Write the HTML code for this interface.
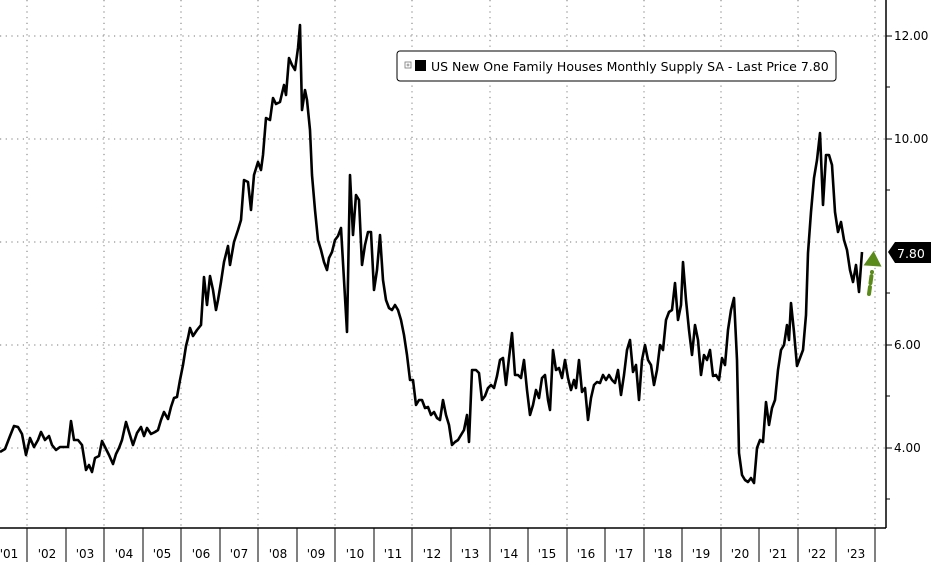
<!DOCTYPE html>
<html><head><style>
body{margin:0;background:#fff;}
svg{display:block;font-family:"DejaVu Sans","Liberation Sans",sans-serif;}
</style></head><body>
<svg width="931" height="562" viewBox="0 0 931 562">
<rect width="931" height="562" fill="#fff"/>
<g stroke="#777" stroke-width="1" stroke-dasharray="1.2,4.5">
<line x1="0" y1="36" x2="886" y2="36"/>
<line x1="0" y1="139" x2="886" y2="139"/>
<line x1="0" y1="242" x2="886" y2="242"/>
<line x1="0" y1="345" x2="886" y2="345"/>
<line x1="0" y1="448" x2="886" y2="448"/>
<line x1="27" y1="0" x2="27" y2="528"/>
<line x1="104" y1="0" x2="104" y2="528"/>
<line x1="181" y1="0" x2="181" y2="528"/>
<line x1="258" y1="0" x2="258" y2="528"/>
<line x1="335" y1="0" x2="335" y2="528"/>
<line x1="412" y1="0" x2="412" y2="528"/>
<line x1="490" y1="0" x2="490" y2="528"/>
<line x1="567" y1="0" x2="567" y2="528"/>
<line x1="644" y1="0" x2="644" y2="528"/>
<line x1="721" y1="0" x2="721" y2="528"/>
<line x1="798" y1="0" x2="798" y2="528"/>
<line x1="875" y1="0" x2="875" y2="528"/>
</g>
<line x1="0" y1="528" x2="886" y2="528" stroke="#000" stroke-width="1.5"/>
<line x1="886" y1="0" x2="886" y2="528" stroke="#000" stroke-width="1.5"/>
<g stroke="#000" stroke-width="1">
<line x1="27" y1="528" x2="27" y2="562"/><line x1="66" y1="528" x2="66" y2="562"/><line x1="104" y1="528" x2="104" y2="562"/><line x1="143" y1="528" x2="143" y2="562"/><line x1="181" y1="528" x2="181" y2="562"/><line x1="220" y1="528" x2="220" y2="562"/><line x1="258" y1="528" x2="258" y2="562"/><line x1="297" y1="528" x2="297" y2="562"/><line x1="335" y1="528" x2="335" y2="562"/><line x1="374" y1="528" x2="374" y2="562"/><line x1="412" y1="528" x2="412" y2="562"/><line x1="451" y1="528" x2="451" y2="562"/><line x1="490" y1="528" x2="490" y2="562"/><line x1="528" y1="528" x2="528" y2="562"/><line x1="567" y1="528" x2="567" y2="562"/><line x1="605" y1="528" x2="605" y2="562"/><line x1="644" y1="528" x2="644" y2="562"/><line x1="682" y1="528" x2="682" y2="562"/><line x1="721" y1="528" x2="721" y2="562"/><line x1="759" y1="528" x2="759" y2="562"/><line x1="798" y1="528" x2="798" y2="562"/><line x1="836" y1="528" x2="836" y2="562"/><line x1="875" y1="528" x2="875" y2="562"/>
<line x1="886" y1="36" x2="892" y2="36"/><line x1="886" y1="139" x2="892" y2="139"/><line x1="886" y1="345" x2="892" y2="345"/><line x1="886" y1="448" x2="892" y2="448"/>
<line x1="886" y1="87" x2="890" y2="87"/><line x1="886" y1="190" x2="890" y2="190"/><line x1="886" y1="293" x2="890" y2="293"/><line x1="886" y1="396" x2="890" y2="396"/><line x1="886" y1="499" x2="890" y2="499"/>
</g>
<g font-size="12" fill="#000" text-anchor="middle">
<text x="9" y="558">'01</text><text x="47" y="558">'02</text><text x="85" y="558">'03</text><text x="124" y="558">'04</text><text x="162" y="558">'05</text><text x="201" y="558">'06</text><text x="239" y="558">'07</text><text x="278" y="558">'08</text><text x="316" y="558">'09</text><text x="355" y="558">'10</text><text x="393" y="558">'11</text><text x="432" y="558">'12</text><text x="470" y="558">'13</text><text x="509" y="558">'14</text><text x="547" y="558">'15</text><text x="586" y="558">'16</text><text x="624" y="558">'17</text><text x="663" y="558">'18</text><text x="701" y="558">'19</text><text x="740" y="558">'20</text><text x="778" y="558">'21</text><text x="817" y="558">'22</text><text x="856" y="558">'23</text>
</g>
<g font-size="12" fill="#000">
<text x="894" y="40">12.00</text><text x="894" y="143">10.00</text><text x="894" y="349">6.00</text><text x="894" y="452">4.00</text>
</g>
<polyline fill="none" stroke="#000" stroke-width="2.6" stroke-linejoin="round" points="0,452 5,449 10,436 14,426 18,427 22,434 26,455 30,438 34,447 38,440 41,432 45,440 49,436 52,445 56,450 60,447 64,447 68,447 71,421 74,440 78,440 82,445 86,470 89,465 92,472 95,458 99,456 102,441 105,447 109,455 113,464 116,454 119,448 122,440 126,422 129,432 133,445 137,433 141,427 144,436 147,428 151,434 155,432 158,430 161,420 164,412 168,419 171,407 174,398 177,397 180,380 183,365 186,346 188,338 190,328 193,336 197,330 201,325 204,277 207,305 210,276 213,290 216,310 218,300 221,282 224,262 228,246 230,265 234,242 238,230 241,220 244,180 248,182 251,210 254,175 258,162 261,170 263,155 266,118 270,120 273,98 276,104 280,102 284,85 286,95 289,58 292,65 295,70 298,48 300,25 302,110 305,90 307,100 310,130 312,175 315,210 318,240 321,250 324,262 327,270 329,258 332,252 335,240 338,236 341,228 344,280 347,332 350,175 353,235 356,195 359,200 362,265 365,245 368,232 371,232 374,290 377,270 380,235 383,280 386,300 389,308 392,310 395,305 398,310 401,320 404,335 407,355 410,380 413,380 416,405 419,400 422,400 425,408 428,407 431,415 434,412 437,418 440,420 443,400 446,415 449,425 452,445 455,442 458,440 461,435 464,430 467,415 469,442 472,370 476,370 479,373 482,400 485,396 488,388 491,385 494,388 497,376 500,360 503,358 506,385 509,358 512,333 515,375 518,375 521,378 524,360 527,390 530,415 533,405 536,390 539,398 542,378 545,375 548,400 550,410 553,350 556,370 559,368 562,378 565,360 568,378 571,390 574,380 576,388 579,360 582,392 585,388 588,420 591,398 594,385 597,382 600,383 603,375 606,380 609,375 612,380 615,383 618,370 621,395 624,375 627,350 630,340 633,372 636,365 639,400 642,360 645,345 648,360 651,365 654,385 657,370 660,345 663,350 666,320 669,312 672,310 675,283 678,320 681,305 683,262 686,300 689,330 692,355 695,325 698,340 701,375 704,355 707,360 710,350 713,376 716,375 719,380 722,358 725,365 728,330 731,310 734,298 737,360 739,453 742,475 745,480 748,482 751,478 754,483 757,448 760,440 763,442 766,402 769,425 772,408 775,400 778,370 781,350 784,345 787,325 789,340 791,303 794,332 797,366 800,358 803,350 806,315 808,253 811,212 814,178 817,160 820,133 823,205 826,155 829,155 832,165 835,212 838,232 841,222 844,240 847,250 850,270 853,282 856,265 859,292 862,252"/>
<line x1="869" y1="294" x2="872" y2="272" stroke="#5a8a1a" stroke-width="4" stroke-dasharray="7,4" stroke-linecap="round"/>
<polygon points="873,251 864,266 882,266" fill="#5a8a1a" transform="rotate(4 873 260)"/>
<polygon points="888,252 895,242 931,242 931,263 895,263" fill="#000"/>
<text x="897" y="258" font-size="12.5" fill="#fff">7.80</text>
<rect x="397" y="51" width="439" height="30" rx="3" fill="#fff" stroke="#000" stroke-width="1"/>
<rect x="405" y="62" width="6" height="6" fill="none" stroke="#777" stroke-width="0.8"/>
<line x1="406.5" y1="65" x2="409.5" y2="65" stroke="#777" stroke-width="0.8"/><line x1="408" y1="63.5" x2="408" y2="66.5" stroke="#777" stroke-width="0.8"/>
<rect x="415" y="60" width="11" height="11" fill="#000"/>
<text x="431" y="71" font-size="12.5" fill="#000">US New One Family Houses Monthly Supply SA - Last Price 7.80</text>
</svg>
</body></html>
